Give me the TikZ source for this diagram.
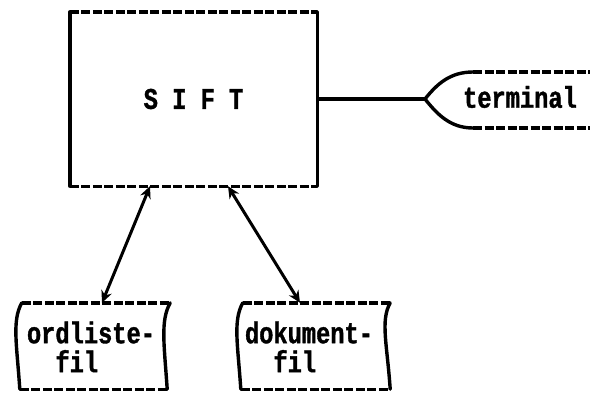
\documentclass[tikz,border=0pt]{standalone}
\usepackage{fontspec}
\usetikzlibrary{arrows.meta}
\newfontfamily\lpfont{Liberation Mono}[FakeStretch=0.79,FakeBold=1.2]
\begin{document}
\begin{tikzpicture}[x=1pt,y=-1pt,
  ln/.style={line width=3.4pt},
  hdash/.style={ln, dash pattern=on 9pt off 2.5pt},
  vside/.style={ln, line cap=round},
  lbl/.style={font=\lpfont\bfseries\fontsize{30}{29}\selectfont, inner sep=0pt},
  biarrow/.style={line width=3pt, {Stealth[length=12pt,width=11pt]}-{Stealth[length=12pt,width=11pt]}},
  area/.style={draw=none, inner sep=0pt}
]
\useasboundingbox (0,0) rectangle (590,392);
\clip (0,0) rectangle (590,392);

% SIFT box
\node[area, lbl, minimum width=247pt, minimum height=174pt] (sift) at (193.5,99) {S I F T};
\draw[hdash] (sift.north west) -- (sift.north east);
\draw[hdash] (sift.south west) -- (sift.south east);
\draw[vside] (sift.north west) -- (sift.south west);
\draw[vside] (sift.north east) -- (sift.south east);

% terminal
\node[lbl] (term) at (520,97) {terminal};
\coordinate (termtip) at (425,99);
\draw[hdash] (473,72) -- (600,72);
\draw[hdash] (473,128) -- (600,128);
\draw[ln] (473,72) .. controls (450,72) and (437,84) .. (termtip) .. controls (437,114) and (450,128) .. (473,128);
\draw[ln] (sift.east) -- (termtip);

% ordliste-fil
\node[area, minimum width=148pt, minimum height=86pt] (ordbox) at (96,346) {};
\node[lbl, align=left] (ordtxt) at (91,347) {ordliste-\\\phantom{or}fil};
\draw[hdash] (ordbox.north west) -- (ordbox.north east);
\draw[hdash] ([xshift=-2pt]ordbox.south west) -- ([xshift=-3pt]ordbox.south east);
\draw[vside] (ordbox.north west) .. controls +(-10,18) and +(-3,-45) .. ([xshift=-2pt]ordbox.south west);
\draw[vside] (ordbox.north east) .. controls +(-10,18) and +(-3,-45) .. ([xshift=-3pt]ordbox.south east);

% dokument-fil
\node[area, minimum width=147pt, minimum height=86pt] (dokbox) at (316.5,346) {};
\node[lbl, align=left] (doktxt) at (309,347) {dokument-\\\phantom{do}fil};
\draw[hdash] (dokbox.north west) -- (dokbox.north east);
\draw[hdash] ([xshift=-2pt]dokbox.south west) -- (dokbox.south east);
\draw[vside] (dokbox.north west) .. controls +(-10,18) and +(-3,-45) .. ([xshift=-2pt]dokbox.south west);
\draw[vside] (dokbox.north east) .. controls +(-10,18) and +(-3,-45) .. (dokbox.south east);

% connectors
\draw[biarrow] ([xshift=-43.5pt]sift.south) -- ([xshift=6pt]ordbox.north);
\draw[biarrow] ([xshift=34.5pt]sift.south) -- ([xshift=-16.5pt]dokbox.north);
\end{tikzpicture}
\end{document}
